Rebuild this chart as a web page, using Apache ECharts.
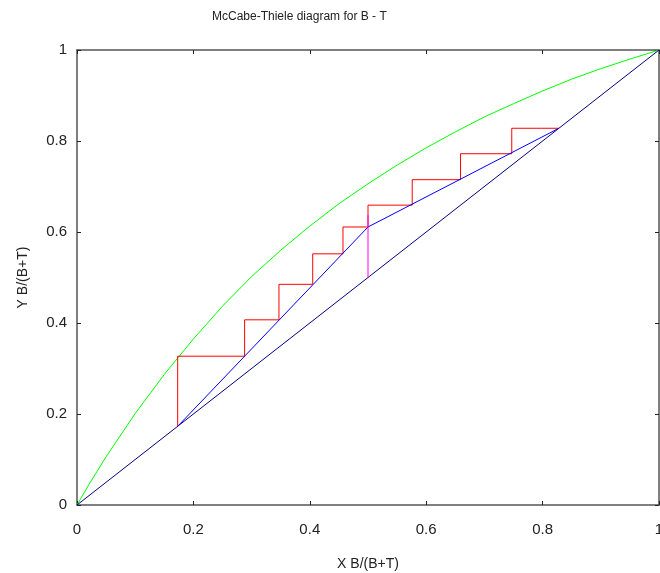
<!DOCTYPE html>
<html>
<head>
<meta charset="utf-8">
<script src="https://cdn.jsdelivr.net/npm/echarts@6/dist/echarts.min.js"></script>
<style>
html,body{margin:0;padding:0;background:#fff;}
#chart{width:660px;height:573px;}
</style>
</head>
<body>
<div id="chart"></div>
<script>
// Equilibrium curve
var eqX = [0, 0.01, 0.02, 0.05, 0.1, 0.15, 0.2, 0.25, 0.3, 0.35, 0.4, 0.45, 0.5, 0.55, 0.6, 0.65, 0.7, 0.75, 0.8, 0.85, 0.9, 0.95, 1];
var eqY = [0, 0.022, 0.044, 0.106, 0.201, 0.287, 0.365, 0.437, 0.502, 0.560, 0.613, 0.662, 0.706, 0.747, 0.785, 0.820, 0.853, 0.882, 0.910, 0.936, 0.959, 0.980, 1];
// Diagonal y = x
var diagX = [0, 1];
var diagY = [0, 1];
// Operating lines (rectifying + stripping)
var opX = [0.828, 0.5, 0.173];
var opY = [0.828, 0.611, 0.173];
// Feed (q) line
var qX = [0.5, 0.5];
var qY = [0.5, 0.637];
// Stage steps
var stepX = [0.828, 0.747, 0.747, 0.659, 0.659, 0.576, 0.576, 0.5, 0.5, 0.457, 0.457, 0.405, 0.405, 0.347, 0.347, 0.288, 0.288, 0.173, 0.173];
var stepY = [0.828, 0.828, 0.772, 0.772, 0.715, 0.715, 0.659, 0.659, 0.611, 0.611, 0.552, 0.552, 0.485, 0.485, 0.407, 0.407, 0.327, 0.327, 0.173];

var titleText = 'McCabe-Thiele diagram for B - T';
var xName = 'X B/(B+T)';
var yName = 'Y B/(B+T)';

function pairs(xs, ys) {
  var out = [];
  for (var i = 0; i < xs.length; i++) out.push([xs[i], ys[i]]);
  return out;
}

var chart = echarts.init(document.getElementById('chart'), null, {renderer: 'canvas'});
var font = 'Liberation Sans, Arial, sans-serif';
var axisLineStyle = {color: '#555', width: 1.5};
function mkAxis(pos, isX, main) {
  var a = {
    type: 'value', position: pos, min: 0, max: 1, interval: 0.2,
    axisLine: {show: true, onZero: false, lineStyle: axisLineStyle},
    axisTick: {show: true, inside: true, length: 4, lineStyle: {color: '#222', width: 1}},
    splitLine: {show: false},
    axisLabel: {show: main, color: '#222', fontFamily: font, fontSize: 15, margin: isX ? 17 : 10}
  };
  if (main) {
    a.name = isX ? xName : yName;
    a.nameLocation = 'middle';
    a.nameGap = isX ? 52 : 47;
    a.nameTextStyle = {color: '#222', fontFamily: font, fontSize: 14};
  }
  return a;
}

var option = {
  animation: false,
  backgroundColor: '#fff',
  title: {
    text: titleText, left: 207, top: 6,
    textStyle: {fontFamily: font, fontSize: 12, fontWeight: 'normal', color: '#222'}
  },
  grid: {left: 77, right: 1, top: 50, bottom: 68, containLabel: false, outerBoundsMode: 'none'},
  xAxis: [mkAxis('bottom', true, true), mkAxis('top', true, false)],
  yAxis: [mkAxis('left', false, true), mkAxis('right', false, false)],
  series: [
    {type: 'line', data: pairs(eqX, eqY), showSymbol: false, smooth: false,
     lineStyle: {color: '#00ff00', width: 1}, z: 2},
    {type: 'line', data: pairs(diagX, diagY), showSymbol: false,
     lineStyle: {color: '#000080', width: 1}, z: 2},
    {type: 'line', data: pairs(stepX, stepY), showSymbol: false,
     lineStyle: {color: '#ff0000', width: 1}, z: 3},
    {type: 'line', data: pairs(opX, opY), showSymbol: false,
     lineStyle: {color: '#0000ff', width: 1}, z: 4},
    {type: 'line', data: pairs(qX, qY), showSymbol: false,
     lineStyle: {color: '#ff00ff', width: 1}, z: 5}
  ]
};
chart.setOption(option);
</script>
</body>
</html>
